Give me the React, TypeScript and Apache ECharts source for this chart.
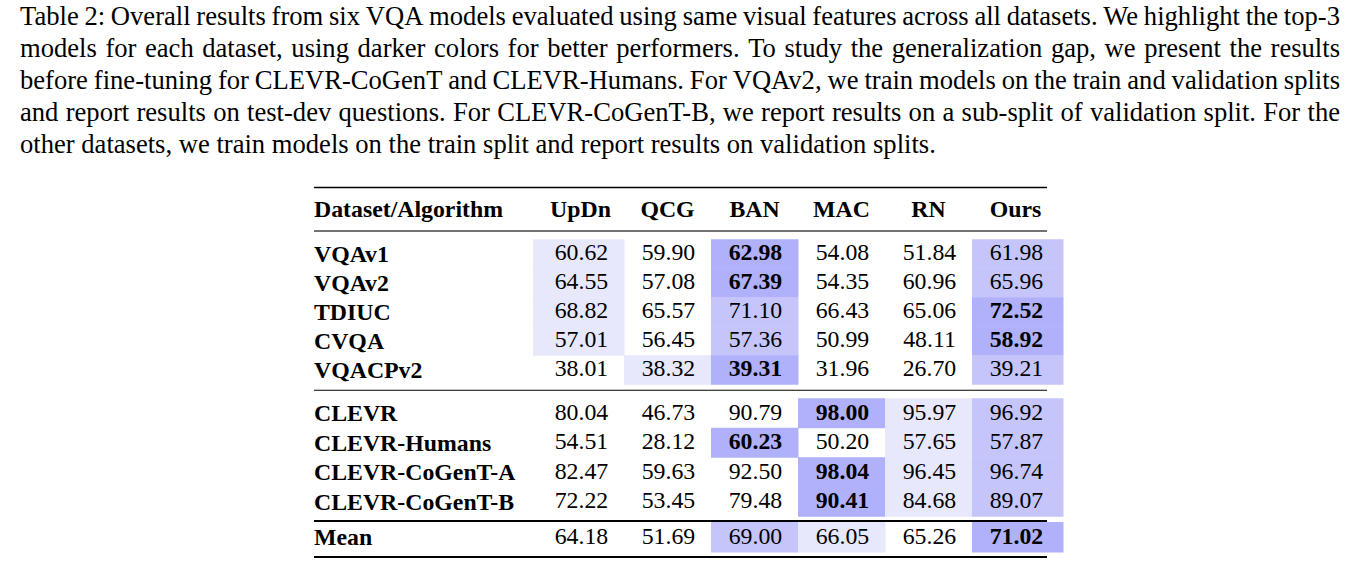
import React, { useEffect, useRef } from "react";
import * as echarts from "echarts";

const captionLines = [
  "Table 2: Overall results from six VQA models evaluated using same visual features across all datasets. We highlight the top-3",
  "models for each dataset, using darker colors for better performers. To study the generalization gap, we present the results",
  "before fine-tuning for CLEVR-CoGenT and CLEVR-Humans. For VQAv2, we train models on the train and validation splits",
  "and report results on test-dev questions. For CLEVR-CoGenT-B, we report results on a sub-split of validation split. For the",
  "other datasets, we train models on the train split and report results on validation splits.",
];

const headerLabel = "Dataset/Algorithm";
const models = ["UpDn", "QCG", "BAN", "MAC", "RN", "Ours"];

const groupA = ["VQAv1", "VQAv2", "TDIUC", "CVQA", "VQACPv2"];
const groupB = ["CLEVR", "CLEVR-Humans", "CLEVR-CoGenT-A", "CLEVR-CoGenT-B"];
const groupC = ["Mean"];

const vqav1 = [60.62, 59.9, 62.98, 54.08, 51.84, 61.98];
const vqav2 = [64.55, 57.08, 67.39, 54.35, 60.96, 65.96];
const tdiuc = [68.82, 65.57, 71.1, 66.43, 65.06, 72.52];
const cvqa = [57.01, 56.45, 57.36, 50.99, 48.11, 58.92];
const vqacpv2 = [38.01, 38.32, 39.31, 31.96, 26.7, 39.21];
const clevr = [80.04, 46.73, 90.79, 98.0, 95.97, 96.92];
const clevrHumans = [54.51, 28.12, 60.23, 50.2, 57.65, 57.87];
const cogentA = [82.47, 59.63, 92.5, 98.04, 96.45, 96.74];
const cogentB = [72.22, 53.45, 79.48, 90.41, 84.68, 89.07];
const meanRow = [64.18, 51.69, 69.0, 66.05, 65.26, 71.02];

const rowsA = [vqav1, vqav2, tdiuc, cvqa, vqacpv2];
const rowsB = [clevr, clevrHumans, cogentA, cogentB];
const rowsC = [meanRow];

const SERIF = '"Liberation Serif", "Times New Roman", serif';
const TABLE_FS = 23.8;
const CAPTION_FS = 26.6;
const SHADES = ["#b1b1fb", "#c5c5fb", "#e8e8fc"]; // rank 1, 2, 3

function buildData(rows: number[][]) {
  const out: number[][] = [];
  rows.forEach((vals, r) => {
    const sorted = [...vals].sort((a, b) => b - a);
    vals.forEach((v, c) => {
      const idx = sorted.indexOf(v);
      const rank = idx < 3 ? idx + 1 : 0;
      out.push([c, r, v, rank]);
    });
  });
  return out;
}

const renderCell = (params: any, api: any) => {
  const col = api.value(0);
  const row = api.value(1);
  const v = api.value(2);
  const rank = api.value(3);
  const c = api.coord([col, row]);
  const s = api.size([1, 1]);
  let x0 = c[0] - s[0] / 2;
  let w = s[0];
  if (col === 0) {
    x0 -= 4;
    w += 4;
  }
  if (col === models.length - 1) w += 4;
  const children: any[] = [];
  if (rank > 0) {
    children.push({
      type: "rect",
      shape: { x: x0, y: c[1] - s[1] / 2, width: w + 0.5, height: s[1] + 0.5 },
      style: { fill: SHADES[rank - 1] },
    });
  }
  children.push({
    type: "text",
    style: {
      text: Number(v).toFixed(2),
      x: c[0] + 1,
      y: c[1] - 1.5,
      align: "center",
      verticalAlign: "middle",
      fontFamily: SERIF,
      fontSize: TABLE_FS,
      fontWeight: rank === 1 ? "bold" : "normal",
      fill: "#000",
    },
  });
  return { type: "group", children };
};

const GRID_LEFT = 537;
const GRID_WIDTH = 522;
const LABEL_X = 314;

function captionGraphics() {
  const els: any[] = [];
  const canvas = document.createElement("canvas");
  const ctx = canvas.getContext("2d")!;
  ctx.font = `${CAPTION_FS}px "Liberation Serif"`;
  const left = 20;
  const right = 1340;
  captionLines.forEach((line, i) => {
    const y = 16 + 31.9 * i;
    const isLast = i === captionLines.length - 1;
    if (isLast) {
      els.push({
        type: "text",
        x: left,
        y,
        style: { text: line, font: `${CAPTION_FS}px ${SERIF}`, fill: "#000", textAlign: "left", textVerticalAlign: "middle" },
      });
      return;
    }
    const words = line.split(" ");
    const widths = words.map((w) => ctx.measureText(w).width);
    const total = widths.reduce((a, b) => a + b, 0);
    const gap = (right - left - total) / (words.length - 1);
    let x = left;
    words.forEach((w, k) => {
      els.push({
        type: "text",
        x,
        y,
        style: { text: w, font: `${CAPTION_FS}px ${SERIF}`, fill: "#000", textAlign: "left", textVerticalAlign: "middle" },
      });
      x += widths[k] + gap;
    });
  });
  return els;
}

function hline(y: number, x1: number, x2: number, width: number, color: string) {
  return { type: "line", shape: { x1, y1: y, x2, y2: y }, style: { stroke: color, lineWidth: width } };
}

function yAxisFor(names: string[], gridIndex: number) {
  return {
    type: "category",
    gridIndex,
    data: names,
    inverse: true,
    axisLine: { show: false },
    axisTick: { show: false },
    splitLine: { show: false },
    axisLabel: {
      interval: 0,
      fontFamily: SERIF,
      fontSize: TABLE_FS,
      fontWeight: "bold",
      color: "#000",
      align: "left",
      verticalAlign: "middle",
      margin: GRID_LEFT - LABEL_X,
      padding: [0, 0, 5, 0],
    },
  };
}

function xAxisFor(gridIndex: number, show: boolean) {
  return {
    type: "category",
    gridIndex,
    data: models,
    position: "top",
    show,
    axisLine: { show: false },
    axisTick: { show: false },
    splitLine: { show: false },
    axisLabel: {
      interval: 0,
      fontFamily: SERIF,
      fontSize: TABLE_FS,
      fontWeight: "bold",
      color: "#000",
      margin: 30,
      verticalAlign: "middle",
    },
  };
}

export default function App() {
  const ref = useRef<HTMLDivElement>(null);
  useEffect(() => {
    if (!ref.current) return;
    const chart = echarts.init(ref.current, undefined, { renderer: "svg" });
    chart.setOption({
      animation: false,
      backgroundColor: "#ffffff",
      grid: [
        { left: GRID_LEFT, width: GRID_WIDTH, top: 239.3, height: 145 },
        { left: GRID_LEFT, width: GRID_WIDTH, top: 398.3, height: 118 },
        { left: GRID_LEFT, width: GRID_WIDTH, top: 522, height: 30 },
      ],
      xAxis: [xAxisFor(0, true), xAxisFor(1, false), xAxisFor(2, false)],
      yAxis: [yAxisFor(groupA, 0), yAxisFor(groupB, 1), yAxisFor(groupC, 2)],
      series: [
        { type: "custom", xAxisIndex: 0, yAxisIndex: 0, renderItem: renderCell, data: buildData(rowsA) },
        { type: "custom", xAxisIndex: 1, yAxisIndex: 1, renderItem: renderCell, data: buildData(rowsB) },
        { type: "custom", xAxisIndex: 2, yAxisIndex: 2, renderItem: renderCell, data: buildData(rowsC) },
      ],
      graphic: [
        ...captionGraphics(),
        {
          type: "text",
          x: LABEL_X,
          y: 208.8,
          style: {
            text: headerLabel,
            font: `bold ${TABLE_FS}px ${SERIF}`,
            fill: "#000",
            textAlign: "left",
            textVerticalAlign: "middle",
          },
        },
        hline(187.5, 314, 1047, 1.6, "#000"),
        hline(231, 314, 1047, 1.6, "#444"),
        hline(390.3, 314, 1047, 1.1, "#000"),
        hline(521, 314, 1047, 1.8, "#000"),
        hline(557, 314, 1047, 1.8, "#000"),
      ],
    });
    return () => chart.dispose();
  }, []);
  return <div ref={ref} style={{ position: "absolute", left: 0, top: 0, width: 1347, height: 570 }} />;
}
